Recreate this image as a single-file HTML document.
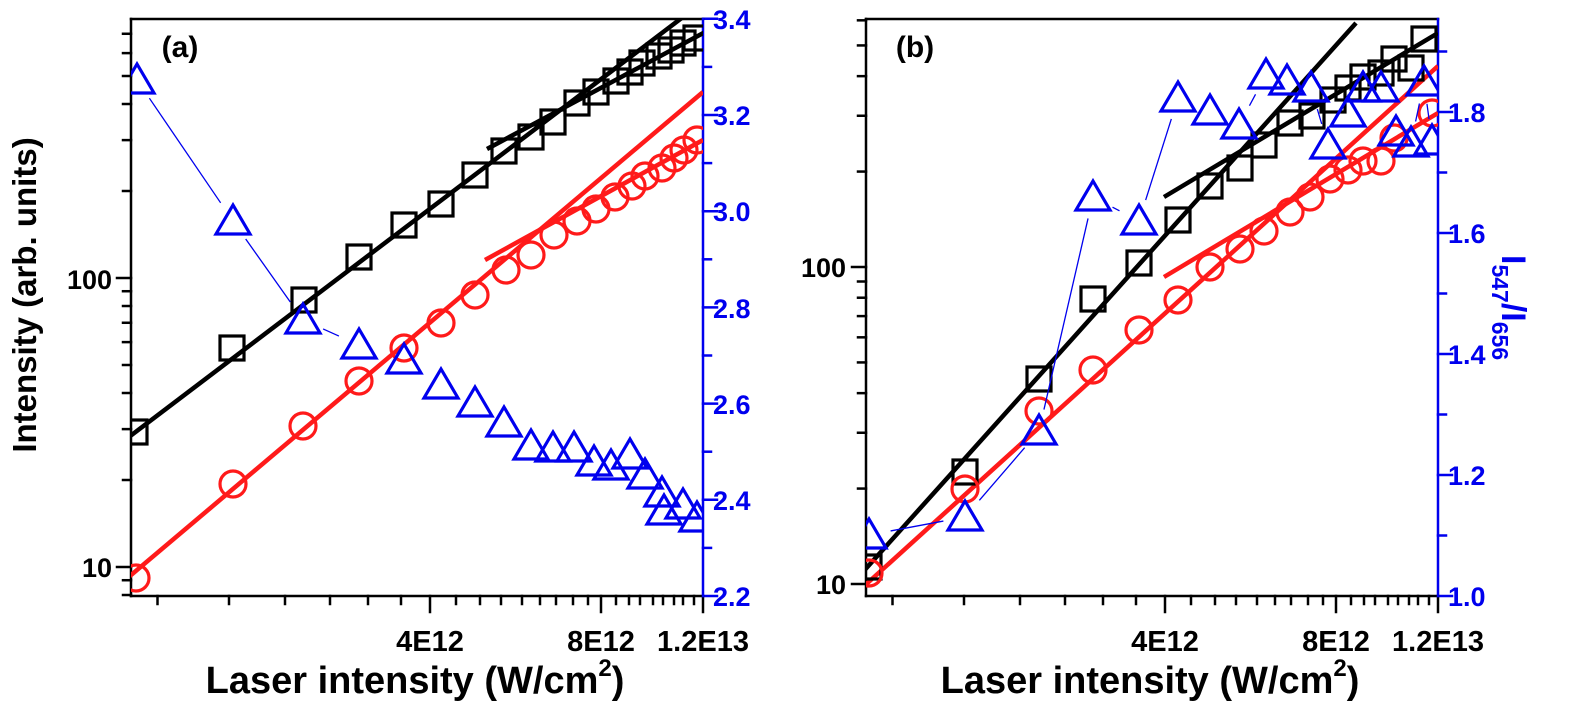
<!DOCTYPE html>
<html><head><meta charset="utf-8"><style>
html,body{margin:0;padding:0;background:#fff;}
svg{display:block;}
text{font-family:"Liberation Sans",Arial,sans-serif;font-weight:bold;}
</style></head><body>
<svg id="s" width="1575" height="708" viewBox="0 0 1575 708" xmlns="http://www.w3.org/2000/svg">
<rect width="1575" height="708" fill="#fff"/>
<g id="g"></g>
<text x="180" y="57" font-size="30" text-anchor="middle">(a)</text>
<text x="915" y="57" font-size="30" text-anchor="middle">(b)</text>
<text transform="translate(36,295) rotate(-90)" font-size="33" text-anchor="middle">Intensity (arb. units)</text>
<text x="112" y="289" font-size="27" text-anchor="end">100</text>
<text x="112" y="577" font-size="27" text-anchor="end">10</text>
<text x="846" y="277" font-size="27" text-anchor="end">100</text>
<text x="846" y="594" font-size="27" text-anchor="end">10</text>
<g font-size="29" text-anchor="middle">
<text x="430" y="651">4E12</text><text x="601" y="651">8E12</text><text x="703" y="651">1.2E13</text>
<text x="1165" y="651">4E12</text><text x="1336" y="651">8E12</text><text x="1438" y="651">1.2E13</text>
</g>
<text x="415" y="693" font-size="38" text-anchor="middle">Laser intensity (W/cm<tspan font-size="24" dy="-17">2</tspan><tspan dy="17">)</tspan></text>
<text x="1150" y="693" font-size="38" text-anchor="middle">Laser intensity (W/cm<tspan font-size="24" dy="-17">2</tspan><tspan dy="17">)</tspan></text>
<g font-size="27" fill="#0000ee">
<text x="713" y="29">3.4</text><text x="713" y="125">3.2</text><text x="713" y="221">3.0</text>
<text x="713" y="318">2.8</text><text x="713" y="414">2.6</text><text x="713" y="510">2.4</text><text x="713" y="606">2.2</text>
<text x="1448" y="122">1.8</text><text x="1448" y="243">1.6</text><text x="1448" y="364">1.4</text>
<text x="1448" y="485">1.2</text><text x="1448" y="606">1.0</text>
</g>
<text transform="translate(1502,255) rotate(90)" font-size="34" fill="#0000ee">I<tspan font-size="23" dy="10">547</tspan><tspan dy="-10">/I</tspan><tspan font-size="23" dy="10">656</tspan></text>
</svg>
<script>
var NS="http://www.w3.org/2000/svg",G=document.getElementById("g");
function el(t,a){var e=document.createElementNS(NS,t);for(var k in a)e.setAttribute(k,a[k]);G.appendChild(e);return e;}
function ln(x1,y1,x2,y2,c,w){el("line",{x1:x1,y1:y1,x2:x2,y2:y2,stroke:c,"stroke-width":w,"stroke-linecap":"square"});}
var B="#000",R="#ff1a1a",U="#0000ee";
function panel(L,Rx,T,Bt,y10,dec,rlo,rpx,rstep,rmin,rmax){
  var id="c"+L;
  var cp=document.createElementNS(NS,"clipPath");cp.setAttribute("id",id);
  var r=document.createElementNS(NS,"rect");r.setAttribute("x",L);r.setAttribute("y",T);r.setAttribute("width",Rx-L);r.setAttribute("height",Bt-T);cp.appendChild(r);G.appendChild(cp);
  var tk=[157.5,229,285,330,368,401,430,456,480,501,522,540,556,573,588,601,616,629,640,653,663,674,683,694,703];
  tk.forEach(function(x){var X=x-131+L;var maj=(x==430||x==601||x==703);ln(X,Bt,X,Bt+(maj?16:8),B,2.5);});
  for(var d=0;d<3;d++)for(var m=1;m<10;m++){var v=m*Math.pow(10,d);var y=y10-dec*Math.log10(v/10);if(y<T-0.5||y>Bt+0.5)continue;ln(L,y,L-(m==1?14:8),y,B,2.5);}
  for(var v=rmin;v<=rmax+1e-6;v+=0.1){var y=Bt-(v-rlo)*rpx;if(y<T-0.5)continue;var maj=Math.round(v*10)%2==0;ln(Rx,y,Rx+(maj?14:8),y,U,2.5);}
  ln(L,T,Rx,T,B,2.5);ln(L,T,L,Bt,B,2.5);ln(L,Bt,Rx,Bt,B,2.5);ln(Rx,T,Rx,Bt,U,2.5);
  return id;
}
var ca=panel(131,703,19,596,567,289,2.2,481,0.1,2.2,3.4);
var cb=panel(866,1438,19,596,584,317,1.0,605,0.1,1.0,1.9);
function grp(id){var g=document.createElementNS(NS,"g");g.setAttribute("clip-path","url(#"+id+")");G.appendChild(g);return g;}
function add(g,t,a){var e=document.createElementNS(NS,t);for(var k in a)e.setAttribute(k,a[k]);g.appendChild(e);}
function sq(g,p){p.forEach(function(q){add(g,"rect",{x:q[0]-12,y:q[1]-12,width:24,height:24,fill:"none",stroke:B,"stroke-width":3.2});});}
function ci(g,p){p.forEach(function(q){add(g,"circle",{cx:q[0],cy:q[1],r:13,fill:"none",stroke:R,"stroke-width":3.2});});}
function tr(g,p){
  for(var i=0;i<p.length-1;i++){var a=p[i],b=p[i+1],dx=b[0]-a[0],dy=b[1]-a[1],l=Math.hypot(dx,dy),gp=22;if(l<2*gp+4)continue;
    add(g,"line",{x1:a[0]+dx/l*gp,y1:a[1]+dy/l*gp,x2:b[0]-dx/l*gp,y2:b[1]-dy/l*gp,stroke:U,"stroke-width":1.3});}
  p.forEach(function(q){var x=q[0],y=q[1];add(g,"polygon",{points:(x-17)+","+(y+13)+" "+(x+17)+","+(y+13)+" "+x+","+(y-16),fill:"none",stroke:U,"stroke-width":3.2,"stroke-linejoin":"miter"});});
}
function fl(g,x1,y1,x2,y2,c){add(g,"line",{x1:x1,y1:y1,x2:x2,y2:y2,stroke:c,"stroke-width":4.5});}
var ga=grp(ca);
fl(ga,125,440,683,17,B);fl(ga,487,149,707,31,B);
fl(ga,124,581,703,92,R);fl(ga,485,260,703,140,R);
sq(ga,[[135,432],[232,348],[304,300],[359,257],[404,225],[441,204],[475,175],[504,151],[531,137],[553,122],[577,103],[596,92],[616,81],[630,72],[642,63],[659,56],[671,50],[683,43],[696,38]]);
ci(ga,[[136,578],[233,484],[303,426],[359,381],[404,348],[441,323],[475,295],[506,270],[531,255],[554,235],[577,221],[596,209],[615,197],[632,186],[645,176],[662,168],[674,158],[684,150],[697,140]]);
tr(ga,[[137,80],[233,221],[303,320],[359,345],[404,360],[441,385],[475,403],[504,423],[531,446],[553,448],[574,448],[594,462],[611,466],[630,455],[645,475],[662,493],[664,511],[683,505],[697,518]]);
var gb=grp(cb);
fl(gb,862,573,1356,23,B);fl(gb,1164,197,1438,33,B);
fl(gb,862,588,1438,66,R);fl(gb,1164,277,1438,113,R);
sq(gb,[[869,567],[965,472],[1039,379],[1093,299],[1139,263],[1178,220],[1210,186],[1240,168],[1264,145],[1290,123],[1312,116],[1333,100],[1348,88],[1363,77],[1381,73],[1394,59],[1411,68],[1424,39]]);
ci(gb,[[869,573],[965,489],[1039,411],[1093,370],[1139,330],[1178,300],[1210,267],[1240,249],[1264,231],[1290,212],[1310,197],[1330,179],[1348,170],[1363,161],[1381,161],[1394,138],[1432,113]]);
tr(gb,[[869,535],[965,517],[1039,431],[1093,197],[1139,221],[1178,98],[1210,111],[1239,125],[1266,75],[1287,81],[1311,88],[1328,145],[1348,113],[1363,88],[1381,88],[1396,132],[1411,143],[1424,82],[1432,141]]);
</script>
</body></html>
